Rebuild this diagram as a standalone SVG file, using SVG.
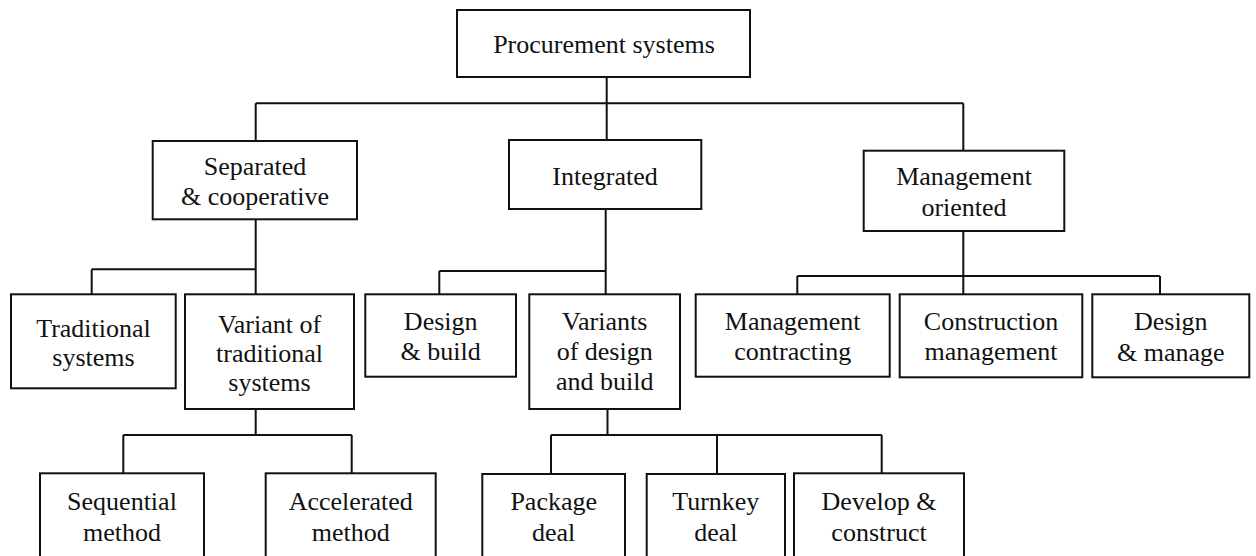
<svg xmlns="http://www.w3.org/2000/svg" width="1256" height="556" viewBox="0 0 1256 556">
<style>
.box{fill:#fff;stroke:#111;stroke-width:2}
.ln{fill:none;stroke:#111;stroke-width:2}
text{font-family:"Liberation Serif","Times New Roman",serif;font-size:26px;fill:#111;text-anchor:middle}
</style>
<rect width="1256" height="556" fill="#fff"/>
<g id="connectors">
<path class="ln" d="M606.7 77V140M255.7 103.3H963.3M255.7 103.3V141M963.3 103.3V150.7"/>
<path class="ln" d="M255.7 219.3V294.3M91.7 269.3H255.7M91.7 269.3V294.3"/>
<path class="ln" d="M605.7 209V294.3M439.3 271H605.7M439.3 271V294.3"/>
<path class="ln" d="M963.3 231V294.3M797.3 276H1160M797.3 276V294.3M1160 276V294.3"/>
<path class="ln" d="M255.7 409V435M123.3 435H351.7M123.3 435V473.3M351.7 435V473.3"/>
<path class="ln" d="M607.5 409V435M551 435H881.7M551 435V474M717 435V474M881.7 435V474"/>
</g>
<g id="root"><rect class="box" x="457" y="10" width="293" height="67"/><text x="604" y="53">Procurement systems</text></g>
<g id="separated"><rect class="box" x="152.7" y="141" width="204.3" height="78.3"/><text x="255" y="175">Separated</text><text x="255" y="204.5">&amp; cooperative</text></g>
<g id="integrated"><rect class="box" x="509" y="140" width="192.3" height="69"/><text x="605" y="185">Integrated</text></g>
<g id="management-oriented"><rect class="box" x="863.7" y="150.7" width="200.6" height="80.3"/><text x="964" y="185">Management</text><text x="964" y="216">oriented</text></g>
<g id="traditional"><rect class="box" x="11" y="294.3" width="164.7" height="94"/><text x="93.5" y="337">Traditional</text><text x="93.5" y="366">systems</text></g>
<g id="variant-traditional"><rect class="box" x="185" y="294.3" width="169" height="114.7"/><text x="269.5" y="333">Variant of</text><text x="269.5" y="362">traditional</text><text x="269.5" y="391">systems</text></g>
<g id="design-build"><rect class="box" x="365.3" y="294.3" width="150.7" height="82.4"/><text x="440.7" y="330">Design</text><text x="440.7" y="360">&amp; build</text></g>
<g id="variants-db"><rect class="box" x="529.3" y="294.3" width="150.7" height="114.7"/><text x="604.7" y="330">Variants</text><text x="604.7" y="360">of design</text><text x="604.7" y="390">and build</text></g>
<g id="management-contracting"><rect class="box" x="695.7" y="294.3" width="194" height="82.4"/><text x="792.7" y="330">Management</text><text x="792.7" y="360">contracting</text></g>
<g id="construction-management"><rect class="box" x="899.7" y="294.3" width="182.6" height="83"/><text x="991" y="330">Construction</text><text x="991" y="360">management</text></g>
<g id="design-manage"><rect class="box" x="1092.3" y="294.3" width="157" height="83"/><text x="1170.8" y="330">Design</text><text x="1170.8" y="360.7">&amp; manage</text></g>
<g id="sequential"><rect class="box" x="40" y="473.3" width="164" height="100"/><text x="122" y="510">Sequential</text><text x="122" y="541">method</text></g>
<g id="accelerated"><rect class="box" x="265.7" y="473.3" width="170" height="100"/><text x="350.7" y="510">Accelerated</text><text x="350.7" y="541">method</text></g>
<g id="package"><rect class="box" x="482.3" y="474" width="142.7" height="100"/><text x="553.7" y="510">Package</text><text x="553.7" y="541">deal</text></g>
<g id="turnkey"><rect class="box" x="646.7" y="474" width="138.3" height="100"/><text x="715.8" y="510">Turnkey</text><text x="715.8" y="541">deal</text></g>
<g id="develop"><rect class="box" x="794" y="473.3" width="170" height="100"/><text x="879" y="510">Develop &amp;</text><text x="879" y="541">construct</text></g>
</svg>
